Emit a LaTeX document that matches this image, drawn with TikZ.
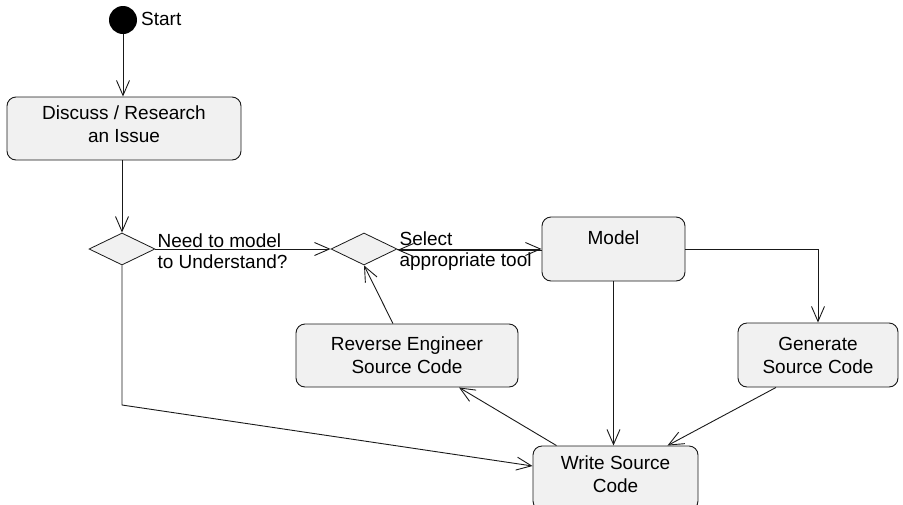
\documentclass[tikz,border=0pt]{standalone}
\usepackage{fontspec}
\setmainfont{Liberation Sans}
\usetikzlibrary{shapes.geometric,arrows.meta}
\definecolor{boxfill}{RGB}{241,241,241}
\definecolor{linec}{RGB}{25,25,25}
\tikzset{
  actbox/.style={draw=linec, fill=boxfill, rounded corners=9pt, line width=0.9pt,
    align=center, inner sep=0pt, font=\fontsize{19}{23}\selectfont},
  choice/.style={draw=linec, fill=boxfill, diamond, inner sep=0pt, line width=0.8pt,
    minimum width=66pt, minimum height=32pt},
  lbl/.style={align=left, inner sep=1pt, font=\fontsize{19}{21.5}\selectfont},
  flow/.style={draw=linec, line width=0.9pt, -{Straight Barb[length=15pt,width=13pt,line width=0.9pt]}}
}
\begin{document}
\begin{tikzpicture}[x=1pt,y=-1pt]
\useasboundingbox (0,0) rectangle (903,504);
\node[circle, fill=black, minimum size=28pt, inner sep=0pt] (start) at (123,20) {};
\node[lbl, anchor=west] (startlbl) at (140,19) {Start};
\node[actbox, minimum width=234pt, minimum height=63pt] (discuss) at (124,128.5) {Discuss / Research\\an Issue\\[-15pt]};
\node[choice] (d1) at (122,249) {};
\node[choice] (d2) at (364,249) {};
\node[actbox, minimum width=143pt, minimum height=64pt] (model) at (613.5,249) {Model\\\phantom{M}};
\node[actbox, minimum width=160pt, minimum height=64pt] (gen) at (818,355) {Generate\\Source Code};
\node[actbox, minimum width=222pt, minimum height=63pt] (rev) at (407,355.5) {Reverse Engineer\\Source Code};
\node[actbox, minimum width=165pt, minimum height=64pt] (write) at (615.5,478) {Write Source\\Code\\[-15pt]};
\node[lbl, anchor=west] (l1) at ([xshift=1pt,yshift=-2pt]d1.east) {Need to model\\to Understand?};
\node[lbl, anchor=west] (l2) at ([xshift=1pt,yshift=-2pt]d2.east) {Select\\appropriate tool};
\coordinate (bend) at (122,405);
\draw[flow] (start.south) -- (discuss.north -| start.south);
\draw[flow] (discuss.south -| d1.north) -- (d1.north);
\draw[flow] (d1.east) -- (d2.west);
\draw[flow] (d2.east) -- (model.west);
\draw[flow] ([yshift=-1pt]model.west) -- ([yshift=-1pt]d2.east);
\draw[flow] (model.east) -| (gen.north);
\draw[flow] (model.south) -- (model.south |- write.north);
\draw[flow] ([xshift=-42pt]gen.south) -- ([xshift=52pt]write.north);
\draw[flow] ([xshift=-59pt]write.north) -- ([xshift=52pt]rev.south);
\draw[flow] ([xshift=-14pt]rev.north) -- (d2.south);
\draw[flow] (d1.south) -- (bend) -- ([yshift=12pt]write.west);
\end{tikzpicture}
\end{document}
